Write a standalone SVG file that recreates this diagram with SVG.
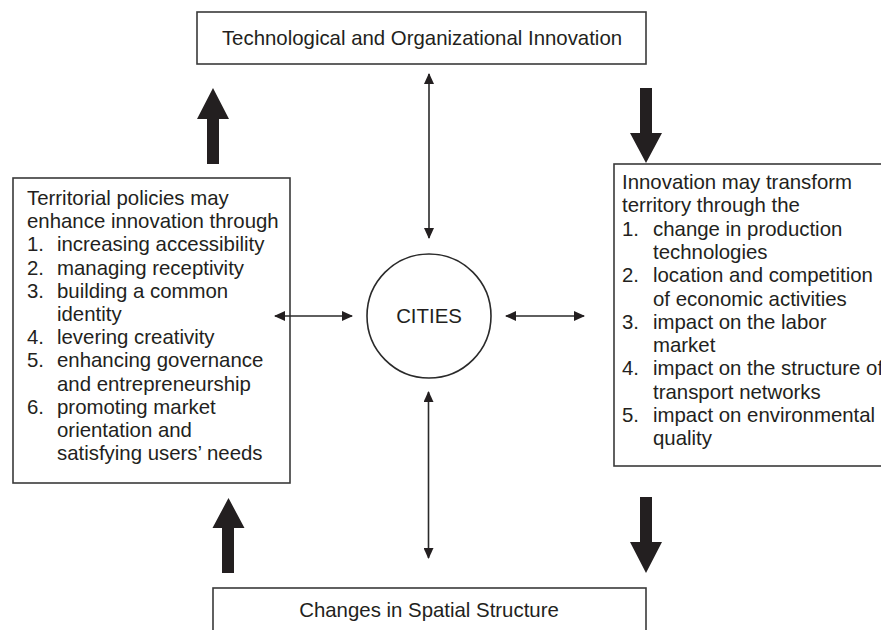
<svg xmlns="http://www.w3.org/2000/svg" width="881" height="630" viewBox="0 0 881 630">
<style>
.box{fill:#fff;stroke:#3a3a3a;stroke-width:1.6}
.t{font-family:"Liberation Sans",Arial,sans-serif;font-size:20.4px;fill:#231f20}
.c{text-anchor:middle}
.thin{stroke:#2a2a2a;stroke-width:1.6;fill:none;marker-start:url(#ah);marker-end:url(#ah)}
.thick{fill:#231f20}
</style>
<defs>
<marker id="ah" markerUnits="userSpaceOnUse" markerWidth="11" markerHeight="10" refX="10" refY="5" orient="auto-start-reverse" viewBox="0 0 11 10">
<path d="M0,0 L11,5 L0,10 z" fill="#231f20"/>
</marker>
</defs>
<rect width="881" height="630" fill="#fff"/>
<g id="top">
<rect class="box" x="197" y="12" width="449" height="52"/>
<text class="t c" x="422" y="45">Technological and Organizational Innovation</text>
</g>
<g id="bottom">
<rect class="box" x="213" y="588" width="433" height="60"/>
<text class="t c" x="429" y="617">Changes in Spatial Structure</text>
</g>
<g id="cities">
<circle cx="429" cy="316" r="62" fill="#fff" stroke="#2a2a2a" stroke-width="1.6"/>
<text class="t c" x="429" y="323">CITIES</text>
</g>
<g id="policies">
<rect class="box" x="13" y="178" width="277" height="305"/>
<text class="t">
<tspan x="27" y="205">Territorial policies may</tspan>
<tspan x="27" y="228.2">enhance innovation through</tspan>
<tspan x="27" y="251.4">1.</tspan><tspan x="57" y="251.4">increasing accessibility</tspan>
<tspan x="27" y="274.6">2.</tspan><tspan x="57" y="274.6">managing receptivity</tspan>
<tspan x="27" y="297.8">3.</tspan><tspan x="57" y="297.8">building a common</tspan>
<tspan x="57" y="321">identity</tspan>
<tspan x="27" y="344.2">4.</tspan><tspan x="57" y="344.2">levering creativity</tspan>
<tspan x="27" y="367.4">5.</tspan><tspan x="57" y="367.4">enhancing governance</tspan>
<tspan x="57" y="390.6">and entrepreneurship</tspan>
<tspan x="27" y="413.8">6.</tspan><tspan x="57" y="413.8">promoting market</tspan>
<tspan x="57" y="437">orientation and</tspan>
<tspan x="57" y="460.2">satisfying users’ needs</tspan>
</text>
</g>
<g id="innovation">
<rect class="box" x="614" y="164" width="300" height="302"/>
<text class="t">
<tspan x="622" y="189">Innovation may transform</tspan>
<tspan x="622" y="212.3">territory through the</tspan>
<tspan x="622" y="235.6">1.</tspan><tspan x="653" y="235.6">change in production</tspan>
<tspan x="653" y="258.9">technologies</tspan>
<tspan x="622" y="282.2">2.</tspan><tspan x="653" y="282.2">location and competition</tspan>
<tspan x="653" y="305.5">of economic activities</tspan>
<tspan x="622" y="328.8">3.</tspan><tspan x="653" y="328.8">impact on the labor</tspan>
<tspan x="653" y="352.1">market</tspan>
<tspan x="622" y="375.4">4.</tspan><tspan x="653" y="375.4">impact on the structure of</tspan>
<tspan x="653" y="398.7">transport networks</tspan>
<tspan x="622" y="422">5.</tspan><tspan x="653" y="422">impact on environmental</tspan>
<tspan x="653" y="445.3">quality</tspan>
</text>
</g>
<g id="connectors">
<line class="thin" x1="429" y1="74" x2="429" y2="238"/>
<line class="thin" x1="428.5" y1="392" x2="428.5" y2="558"/>
<line class="thin" x1="275" y1="316" x2="352" y2="316"/>
<line class="thin" x1="506" y1="316" x2="584" y2="316"/>
<polygon class="thick" points="207,164 207,119 197,119 213,88 229,119 219,119 219,164"/>
<polygon class="thick" points="640,88 652,88 652,133 662,133 646,163 630,133 640,133"/>
<polygon class="thick" points="222,573 222,528 212.5,528 228.5,498 244.5,528 234,528 234,573"/>
<polygon class="thick" points="640,497 652,497 652,542 662,542 646,573 630,542 640,542"/>
</g>
</svg>
